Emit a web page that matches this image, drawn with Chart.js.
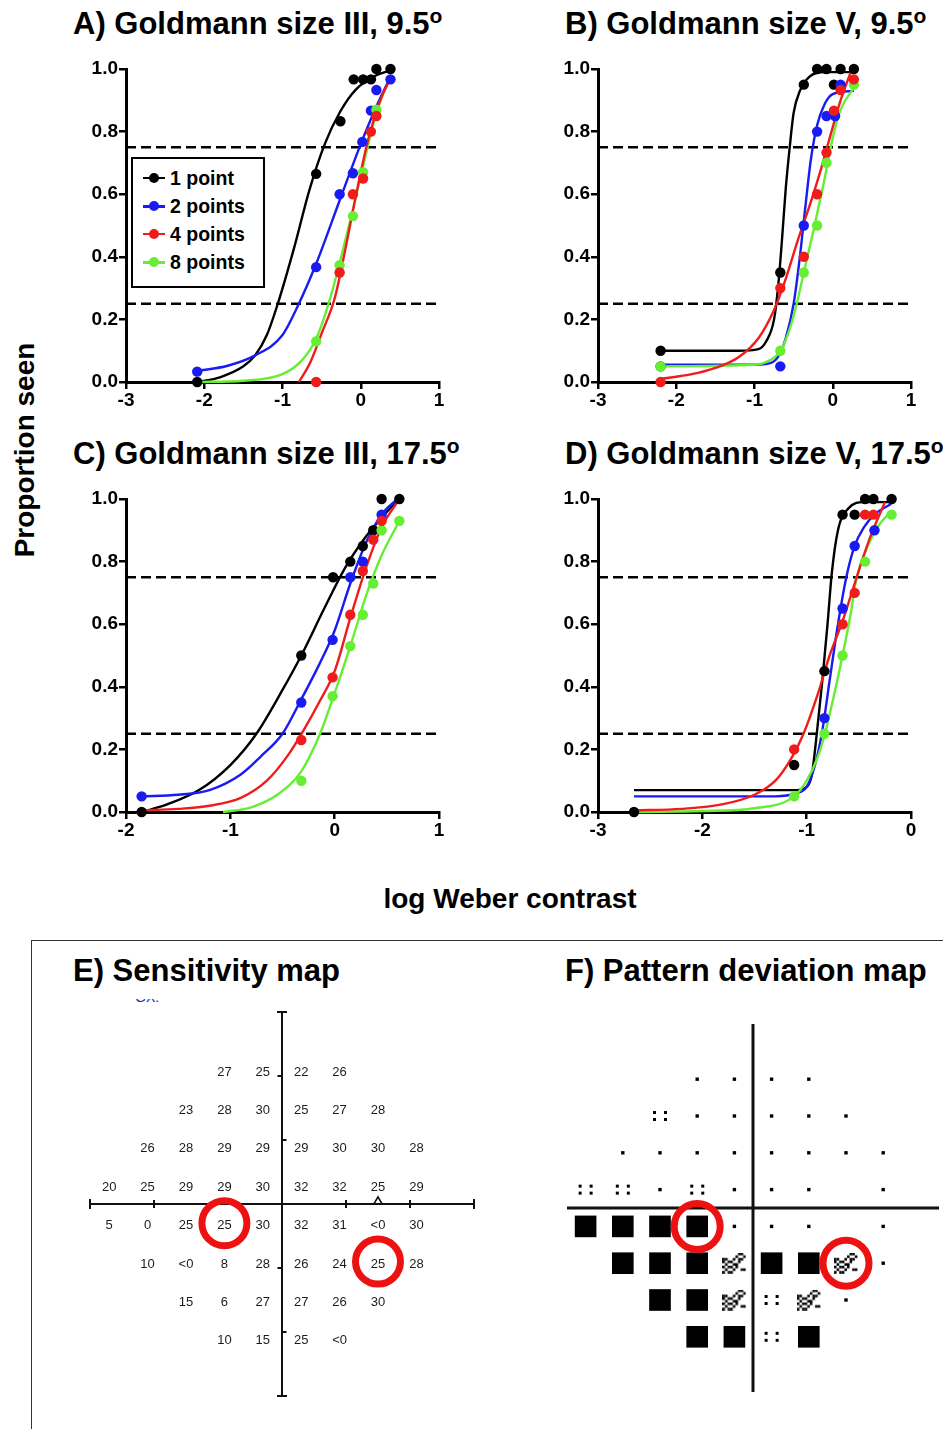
<!DOCTYPE html>
<html><head><meta charset="utf-8">
<script src="https://cdn.jsdelivr.net/npm/chart.js@4.4.1/dist/chart.umd.min.js"></script>
<style>
html,body{margin:0;padding:0;background:#fff;}
body{width:943px;height:1429px;position:relative;overflow:hidden;font-family:'Liberation Sans',Arial,Helvetica,sans-serif;color:#000;}
.title{position:absolute;font-weight:bold;font-size:31px;line-height:31px;white-space:nowrap;}
.title .deg{font-size:21px;position:relative;top:-11px;}
canvas{position:absolute;}
.axlab{position:absolute;font-weight:bold;font-size:28px;line-height:28px;white-space:nowrap;}
#legend{position:absolute;left:131px;top:157px;width:134px;height:131px;border:2.5px solid #000;box-sizing:border-box;background:#fff;}
.lrow{position:absolute;left:0;height:24px;width:130px;}
.lline{position:absolute;left:10px;width:22px;height:2.5px;top:11px;}
.ldot{position:absolute;left:16px;top:7px;width:10px;height:10px;border-radius:50%;}
.ltxt{position:absolute;left:37px;top:0;font-weight:bold;font-size:19.5px;line-height:24px;}
</style></head><body>

<div class="title" style="left:73px;top:8px">A) Goldmann size III, 9.5<span class="deg">o</span></div>
<div class="title" style="left:565px;top:8px">B) Goldmann size V, 9.5<span class="deg">o</span></div>
<div class="title" style="left:73px;top:438px">C) Goldmann size III, 17.5<span class="deg">o</span></div>
<div class="title" style="left:565px;top:438px">D) Goldmann size V, 17.5<span class="deg">o</span></div>

<canvas id="cA" width="390" height="360" style="left:60px;top:55px"></canvas>
<canvas id="cB" width="390" height="360" style="left:532px;top:55px"></canvas>
<canvas id="cC" width="390" height="360" style="left:60px;top:485px"></canvas>
<canvas id="cD" width="390" height="360" style="left:532px;top:485px"></canvas>

<div id="legend"></div>

<div class="axlab" style="left:25px;top:450px;transform:translate(-50%,-50%) rotate(-90deg)">Proportion seen</div>
<div class="axlab" style="left:510px;top:899px;transform:translate(-50%,-50%)">log Weber contrast</div>

<div style="position:absolute;left:31px;top:940px;width:1000px;height:600px;border-left:1.5px solid #333;border-top:1.5px solid #333;"></div>
<div class="title" style="left:73px;top:955px">E) Sensitivity map</div>
<div class="title" style="left:565px;top:955px">F) Pattern deviation map</div>
<div style="position:absolute;left:135px;top:999px;width:30px;height:6px;overflow:hidden;">
  <div style="position:absolute;top:-9px;left:0;font-size:14px;line-height:14px;color:#1a2bd8;white-space:nowrap">GX:</div>
</div>

<canvas id="cE" width="440" height="420" style="left:60px;top:990px"></canvas>
<canvas id="cF" width="403" height="420" style="left:540px;top:1000px"></canvas>

<script>
// ---------- Data: psychometric panels (x = log Weber contrast, y = proportion seen) ----------
const seriesLabels = ['1 point', '2 points', '4 points', '8 points'];
const thresholds = [0.25, 0.75];

// Panel A: Goldmann size III, 9.5 deg
const aPts1 = [[-2.09,0],[-0.57,0.665],[-0.26,0.833],[-0.09,0.967],[0.03,0.967],[0.13,0.967],[0.2,1.0],[0.38,1.0]];
const aPts2 = [[-2.09,0.033],[-0.57,0.367],[-0.27,0.6],[-0.1,0.667],[0.02,0.767],[0.13,0.867],[0.2,0.933],[0.38,0.967]];
const aPts4 = [[-0.57,0],[-0.27,0.35],[-0.1,0.6],[0.03,0.65],[0.13,0.8],[0.2,0.85]];
const aPts8 = [[-0.57,0.13],[-0.27,0.373],[-0.1,0.53],[0.03,0.67],[0.2,0.87]];
const aFit1 = [[-2.09,0],[-1.8,0.015],[-1.5,0.05],[-1.35,0.085],[-1.2,0.15],[-1.06,0.25],[-0.85,0.43],[-0.66,0.61],[-0.46,0.76],[-0.26,0.865],[-0.06,0.935],[0.2,0.98],[0.38,0.995]];
const aFit2 = [[-2.09,0.035],[-1.7,0.052],[-1.35,0.085],[-1.0,0.15],[-0.8,0.245],[-0.566,0.38],[-0.27,0.58],[0.0,0.76],[0.2,0.88],[0.38,0.975]];
const aFit4 = [[-0.79,0],[-0.65,0.06],[-0.5,0.155],[-0.33,0.27],[-0.2,0.42],[-0.05,0.61],[0.1,0.78],[0.25,0.9],[0.38,0.97]];
const aFit8 = [[-2.09,0],[-1.5,0.004],[-1.0,0.025],[-0.75,0.07],[-0.566,0.14],[-0.4,0.26],[-0.27,0.38],[-0.1,0.55],[0.05,0.71],[0.2,0.86],[0.3,0.93]];

// Panel B: Goldmann size V, 9.5 deg
const bPts1 = [[-2.2,0.1],[-0.67,0.35],[-0.37,0.95],[-0.2,1],[-0.08,1],[0.015,0.95],[0.1,1],[0.27,1]];
const bPts2 = [[-2.2,0.05],[-0.67,0.05],[-0.37,0.5],[-0.2,0.8],[-0.08,0.85],[0.03,0.85],[0.1,0.95]];
const bPts4 = [[-2.2,0],[-0.67,0.3],[-0.37,0.4],[-0.2,0.6],[-0.08,0.733],[0.015,0.867],[0.1,0.933],[0.27,0.967]];
const bPts8 = [[-2.2,0.05],[-0.67,0.1],[-0.37,0.35],[-0.2,0.5],[-0.08,0.7],[0.27,0.95]];
const bFit1 = [[-2.2,0.1],[-1.2,0.1],[-0.95,0.105],[-0.85,0.13],[-0.75,0.2],[-0.7,0.3],[-0.65,0.45],[-0.6,0.62],[-0.55,0.75],[-0.5,0.86],[-0.42,0.93],[-0.3,0.975],[-0.1,0.99],[0.27,0.99]];
const bFit2 = [[-2.2,0.055],[-1.0,0.055],[-0.8,0.06],[-0.7,0.08],[-0.6,0.14],[-0.5,0.25],[-0.42,0.4],[-0.35,0.56],[-0.28,0.71],[-0.2,0.82],[-0.1,0.89],[0,0.92],[0.27,0.93]];
const bFit4 = [[-2.2,0.01],[-1.8,0.025],[-1.5,0.045],[-1.2,0.08],[-0.95,0.14],[-0.75,0.23],[-0.6,0.33],[-0.45,0.45],[-0.3,0.56],[-0.15,0.68],[-0.05,0.77],[0.1,0.9],[0.23,0.99]];
const bFit8 = [[-2.2,0.05],[-1.0,0.055],[-0.8,0.07],[-0.667,0.1],[-0.55,0.17],[-0.46,0.25],[-0.37,0.35],[-0.25,0.48],[-0.12,0.63],[0,0.78],[0.1,0.87],[0.27,0.94]];

// Panel C: Goldmann size III, 17.5 deg
const cPts1 = [[-1.85,0],[-0.32,0.5],[-0.015,0.75],[0.15,0.8],[0.27,0.85],[0.37,0.9],[0.45,1],[0.62,1]];
const cPts2 = [[-1.85,0.05],[-0.32,0.35],[-0.02,0.55],[0.15,0.75],[0.27,0.8],[0.45,0.95]];
const cPts4 = [[-0.32,0.23],[-0.02,0.43],[0.15,0.63],[0.27,0.77],[0.37,0.87],[0.45,0.93]];
const cPts8 = [[-0.32,0.1],[-0.02,0.37],[0.15,0.53],[0.27,0.63],[0.37,0.73],[0.45,0.9],[0.62,0.93]];
const cFit1 = [[-1.85,0],[-1.6,0.025],[-1.3,0.07],[-1.0,0.15],[-0.75,0.25],[-0.5,0.39],[-0.32,0.5],[-0.1,0.65],[0.1,0.78],[0.3,0.88],[0.45,0.94],[0.6,0.995]];
const cFit2 = [[-1.85,0.05],[-1.5,0.055],[-1.2,0.07],[-0.9,0.12],[-0.7,0.18],[-0.5,0.25],[-0.32,0.36],[-0.15,0.47],[0,0.58],[0.15,0.73],[0.3,0.86],[0.45,0.95],[0.6,1.0]];
const cFit4 = [[-1.85,0.005],[-1.5,0.01],[-1.2,0.02],[-0.9,0.045],[-0.65,0.1],[-0.45,0.18],[-0.3,0.26],[-0.15,0.35],[0,0.45],[0.15,0.62],[0.3,0.78],[0.45,0.91],[0.6,0.99]];
const cFit8 = [[-1.07,0],[-0.8,0.015],[-0.55,0.055],[-0.32,0.13],[-0.14,0.25],[0,0.38],[0.15,0.53],[0.3,0.69],[0.45,0.82],[0.62,0.93]];

// Panel D: Goldmann size V, 17.5 deg
const dPts1 = [[-2.655,0],[-1.12,0.15],[-0.83,0.45],[-0.656,0.95],[-0.54,0.95],[-0.44,1],[-0.36,1],[-0.186,1]];
const dPts2 = [[-0.83,0.3],[-0.656,0.65],[-0.54,0.85],[-0.35,0.9]];
const dPts4 = [[-1.12,0.2],[-0.656,0.6],[-0.54,0.7],[-0.44,0.95],[-0.36,0.95]];
const dPts8 = [[-1.12,0.05],[-0.83,0.25],[-0.656,0.5],[-0.44,0.8],[-0.186,0.95]];
const dFit1 = [[-2.655,0.07],[-1.1,0.07],[-1.0,0.08],[-0.95,0.12],[-0.9,0.26],[-0.85,0.42],[-0.8,0.6],[-0.76,0.76],[-0.7,0.9],[-0.6,0.97],[-0.45,0.99],[-0.19,0.99]];
const dFit2 = [[-2.655,0.05],[-1.3,0.05],[-1.1,0.06],[-1.0,0.08],[-0.92,0.15],[-0.85,0.26],[-0.78,0.42],[-0.7,0.6],[-0.62,0.75],[-0.54,0.85],[-0.45,0.91],[-0.35,0.95],[-0.19,0.985]];
const dFit4 = [[-2.655,0.005],[-2.2,0.01],[-1.8,0.025],[-1.5,0.055],[-1.3,0.1],[-1.15,0.17],[-1.03,0.25],[-0.9,0.37],[-0.78,0.5],[-0.656,0.61],[-0.54,0.73],[-0.4,0.87],[-0.25,0.99]];
const dFit8 = [[-2.655,0],[-2.0,0.003],[-1.5,0.012],[-1.12,0.05],[-1.0,0.1],[-0.9,0.17],[-0.825,0.25],[-0.74,0.37],[-0.656,0.5],[-0.58,0.63],[-0.52,0.75],[-0.4,0.86],[-0.3,0.92],[-0.19,0.96]];

// ---------- Data: visual field maps (degrees) ----------
const mapCols = [-27,-21,-15,-9,-3,3,9,15,21];
const mapRows = [21,15,9,3,-3,-9,-15,-21];
const sensitivity = [
  [null,null,null,'27','25','22','26',null,null],
  [null,null,'23','28','30','25','27','28',null],
  [null,'26','28','29','29','29','30','30','28'],
  ['20','25','29','29','30','32','32','25','29'],
  ['5','0','25','25','30','32','31','<0','30'],
  [null,'10','<0','8','28','26','24','25','28'],
  [null,null,'15','6','27','27','26','30',null],
  [null,null,null,'10','15','25','<0',null,null]
];
// d = not significant, q = p<5%, c = p<2%, b = p<0.5%
const patternDev = [
  [null,null,null,'d','d','d','d',null,null],
  [null,null,'q','d','d','d','d','d',null],
  [null,'d','d','d','d','d','d','d','d'],
  ['q','q','d','q','d','d','d',null,'d'],
  ['b','b','b','b','d','d','d',null,'d'],
  [null,'b','b','b','c','b','b','c','d'],
  [null,null,'b','b','c','q','c','d',null],
  [null,null,null,'b','b','q','b',null,null]
];
const circledLocs = [[-9,-3],[15,-9]];
const blindSpot = [[15,0.4]];

// ---------- Rendering ----------
const FONT = "'Liberation Sans', Arial, Helvetica, sans-serif";
const colors = ['#000000','#1a1af2','#f01c1c','#66ee33'];
const drawOrder = [3,2,0,1];
const xy = arr => arr.map(p => ({x:p[0], y:p[1]}));

function panel(id, xmin, xmax, pts, fits){
  const ds = [];
  pts.forEach((p,i) => ds.push({label:seriesLabels[i], data:xy(p), showLine:false, pointRadius:5.2,
    pointBackgroundColor:colors[i], pointBorderWidth:0, order:drawOrder[i], clip:false}));
  fits.forEach((f,i) => ds.push({data:xy(f), showLine:true, pointRadius:0, borderColor:colors[i],
    borderWidth:2.4, cubicInterpolationMode:'monotone', fill:false, order:4+drawOrder[i], clip:false}));
  thresholds.forEach(t => ds.push({data:[{x:xmin,y:t},{x:xmax,y:t}], showLine:true, pointRadius:0,
    borderColor:'#000', borderWidth:2.7, borderDash:[10,5], order:9, clip:false}));
  const tickFont = {family:FONT, weight:'bold', size:19};
  new Chart(document.getElementById(id), {
    type:'scatter',
    data:{datasets:ds},
    options:{
      responsive:false, animation:false, devicePixelRatio:1, events:[],
      layout:{padding:{top:14,right:11,left:0,bottom:0}, autoPadding:false},
      plugins:{legend:{display:false}, tooltip:{enabled:false}},
      scales:{
        x:{type:'linear', min:xmin, max:xmax,
          ticks:{stepSize:1, color:'#000', font:tickFont, padding:0, maxRotation:0, autoSkip:false, callback:v=>String(v)},
          grid:{drawOnChartArea:false, drawTicks:true, tickLength:7, color:'#000', lineWidth:2.5},
          border:{display:true, color:'#000', width:3},
          afterFit:s=>{s.height=33; s.paddingLeft=0; s.paddingRight=0;}
        },
        y:{type:'linear', min:0, max:1,
          ticks:{stepSize:0.2, color:'#000', font:tickFont, padding:1, callback:v=>Number(v).toFixed(1)},
          grid:{drawOnChartArea:false, drawTicks:true, tickLength:7, color:'#000', lineWidth:2.5},
          border:{display:true, color:'#000', width:3},
          afterFit:s=>{s.width=66; s.paddingTop=0; s.paddingBottom=0;}
        }
      }
    }
  });
}

panel('cA', -3, 1, [aPts1,aPts2,aPts4,aPts8], [aFit1,aFit2,aFit4,aFit8]);
panel('cB', -3, 1, [bPts1,bPts2,bPts4,bPts8], [bFit1,bFit2,bFit4,bFit8]);
panel('cC', -2, 1, [cPts1,cPts2,cPts4,cPts8], [cFit1,cFit2,cFit4,cFit8]);
panel('cD', -3, 0, [dPts1,dPts2,dPts4,dPts8], [dFit1,dFit2,dFit4,dFit8]);

// Legend (panel A)
const lg = document.getElementById('legend');
const rowTops = [6.5, 35, 62.5, 91];
seriesLabels.forEach((lab,i) => {
  const r = document.createElement('div'); r.className='lrow'; r.style.top = rowTops[i]+'px';
  r.innerHTML = `<div class="lline" style="background:${colors[i]}"></div><div class="ldot" style="background:${colors[i]}"></div><div class="ltxt">${lab}</div>`;
  lg.appendChild(r);
});

// ---------- Field maps ----------
function gridPoints(grid){
  const out = [];
  mapRows.forEach((ry,ri) => mapCols.forEach((cx,ci) => { const v = grid[ri][ci]; if (v !== null) out.push({x:cx, y:ry, v}); }));
  return out;
}

const crossAxes = {
  id:'crossAxes',
  beforeDatasetsDraw(chart, args, opts){
    const {ctx, scales:{x, y}} = chart;
    const px = v => x.getPixelForValue(v), py = v => y.getPixelForValue(v);
    ctx.save();
    ctx.strokeStyle = '#111'; ctx.lineWidth = opts.width;
    ctx.beginPath();
    ctx.moveTo(px(-30), py(0)); ctx.lineTo(px(30), py(0));
    ctx.moveTo(px(0), py(30)); ctx.lineTo(px(0), py(-30));
    ctx.stroke();
    if (opts.hTicks){
      ctx.beginPath();
      opts.hTicks.forEach(t => { const h = Math.abs(t) === 30 ? 5 : 4; ctx.moveTo(px(t), py(0)-h); ctx.lineTo(px(t), py(0)+h); });
      opts.vTicks.forEach(t => {
        const s = t[1];
        const l = s === 'both' ? 5 : (s === 'left' ? 4.5 : 0), r = s === 'both' ? 5 : (s === 'right' ? 4.5 : 0);
        ctx.moveTo(px(0)-l, py(t[0])); ctx.lineTo(px(0)+r, py(t[0]));
      });
      ctx.stroke();
    }
    ctx.restore();
  }
};

const textLabels = {
  id:'textLabels',
  beforeDatasetsDraw(chart, args, opts){
    if (!opts.labels) return;
    const {ctx} = chart;
    const meta = chart.getDatasetMeta(0);
    ctx.save();
    ctx.fillStyle = '#1c1c1c';
    ctx.font = `13px ${FONT}`;
    ctx.textAlign = 'center'; ctx.textBaseline = 'middle';
    meta.data.forEach((el,i) => ctx.fillText(opts.labels[i], el.x, el.y + 2.5));
    ctx.restore();
  }
};

function mapOptions(pad, axisOpts, labels){
  return {
    responsive:false, animation:false, devicePixelRatio:1, events:[],
    layout:{padding:pad, autoPadding:false},
    plugins:{legend:{display:false}, tooltip:{enabled:false}, crossAxes:axisOpts, textLabels:{labels}},
    scales:{
      x:{type:'linear', min:-30, max:30, display:false},
      y:{type:'linear', min:-30, max:30, display:false}
    }
  };
}

// E) Sensitivity map
const ePts = gridPoints(sensitivity);
new Chart(document.getElementById('cE'), {
  type:'scatter',
  data:{datasets:[
    {data:ePts.map(p=>({x:p.x,y:p.y})), pointRadius:0, order:2},
    {data:xy(circledLocs), pointRadius:22.5, pointBorderWidth:7, pointBorderColor:'#ee1111', pointBackgroundColor:'rgba(0,0,0,0)', clip:false, order:0},
    {data:xy(blindSpot), pointStyle:'triangle', pointRadius:4.6, pointBorderWidth:1.6, pointBorderColor:'#111', pointBackgroundColor:'#fff', order:1}
  ]},
  options:mapOptions({left:30,right:26,top:22,bottom:14},
    {width:2, hTicks:[-30,-20,10,20,30], vTicks:[[30,'both'],[20,'left'],[10,'right'],[-10,'left'],[-20,'right'],[-30,'both']]},
    ePts.map(p=>p.v)),
  plugins:[crossAxes, textLabels]
});

// F) Pattern deviation map: symbol glyphs
function glyph(w, h, cells){
  const c = document.createElement('canvas'); c.width = w; c.height = h;
  const g = c.getContext('2d'); g.fillStyle = '#000';
  cells.forEach(p => g.fillRect(p[0], p[1], p[2], p[3]));
  return c;
}
const quadGlyph = glyph(16, 12, [[1,1,3,3],[12,1,3,3],[1,8,3,3],[12,8,3,3]]);
const checkRows = [
  "......XX.",
  ".....X..X",
  "XX..X.XX.",
  "X.XX..X..",
  ".X..XX...",
  "X.XX.X...",
  ".X..X..XX",
  "X.XX....."
];
const checkCells = [];
checkRows.forEach((row,r) => [...row].forEach((ch,c) => { if (ch === 'X') checkCells.push([c*2.6, r*2.6, 2.6, 2.6]); }));
const checkGlyph = glyph(24, 21, checkCells);

const fPts = gridPoints(patternDev);
const sym = k => fPts.filter(p => p.v === k).map(p => ({x:p.x, y:p.y}));
new Chart(document.getElementById('cF'), {
  type:'scatter',
  data:{datasets:[
    {data:xy(circledLocs), pointRadius:23, pointBorderWidth:7, pointBorderColor:'#ee1111', pointBackgroundColor:'rgba(0,0,0,0)', clip:false, order:0},
    {data:sym('b'), pointStyle:'rect', pointRadius:15.3, pointBorderWidth:0, pointBackgroundColor:'#000', order:1},
    {data:sym('c'), pointStyle:checkGlyph, order:2},
    {data:sym('q'), pointStyle:quadGlyph, order:3},
    {data:sym('d'), pointStyle:'rect', pointRadius:2.4, pointBorderWidth:0, pointBackgroundColor:'#000', order:4}
  ]},
  options:mapOptions({left:27,right:4,top:24,bottom:28}, {width:3}, null),
  plugins:[crossAxes, textLabels]
});
</script>
</body></html>
